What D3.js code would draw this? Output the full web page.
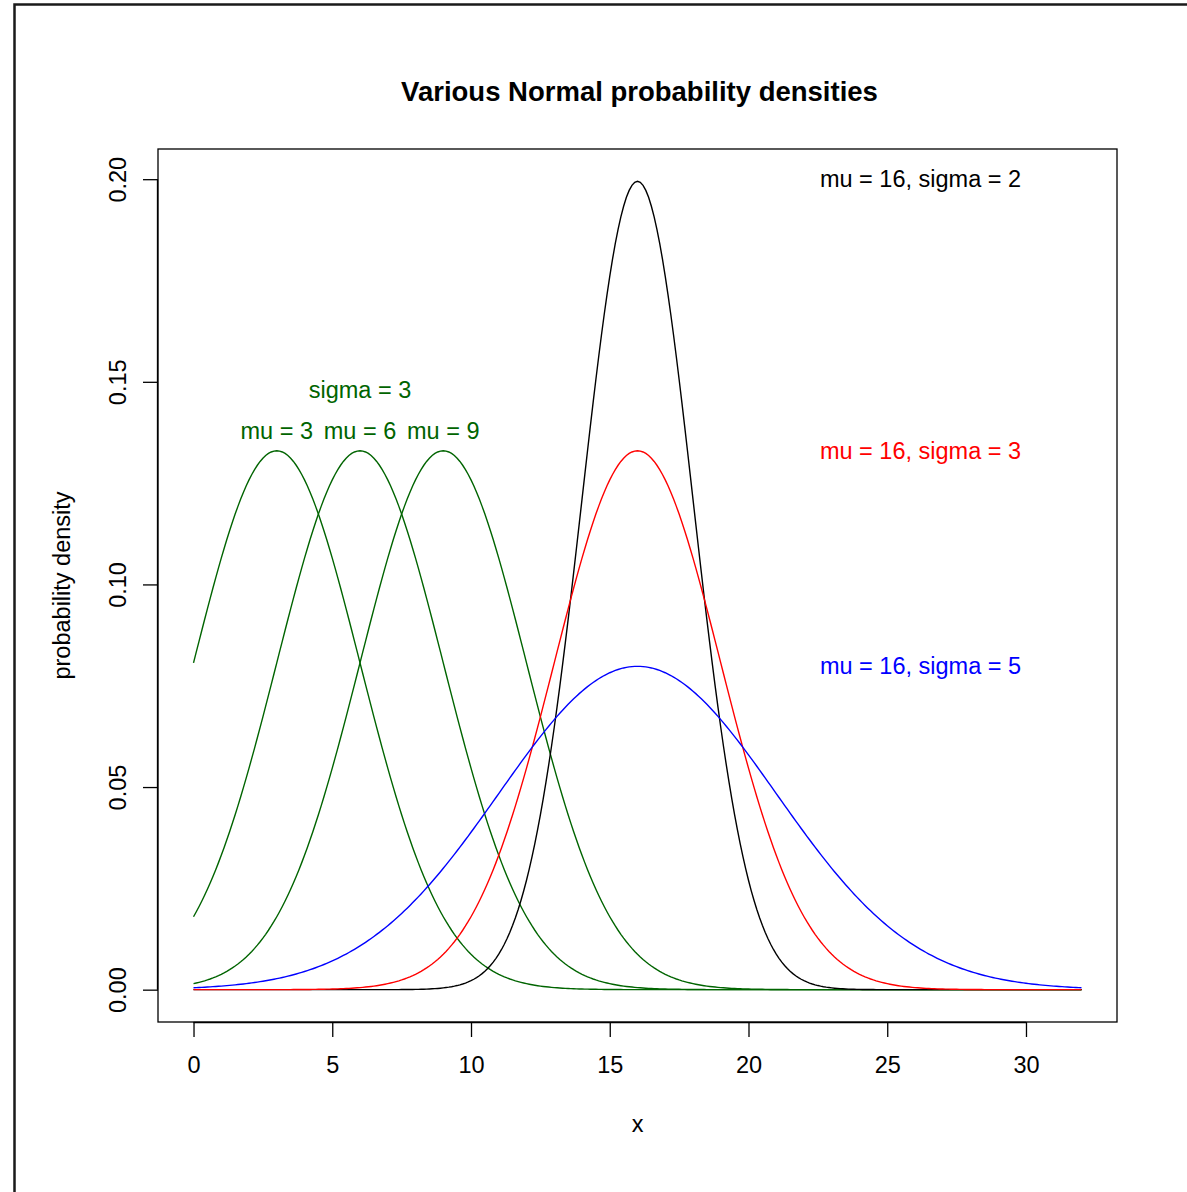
<!DOCTYPE html>
<html>
<head>
<meta charset="utf-8">
<script src="https://cdn.jsdelivr.net/npm/d3@7"></script>
<style>
  body { margin: 0; background: #fff; }
  text { font-family: "Liberation Sans", Arial, Helvetica, sans-serif; }
</style>
</head>
<body>
<div id="chart"></div>
<script>
// curve parameters
var curveMu = [3, 6, 9, 16, 16, 16];
var curveSigma = [3, 3, 3, 2, 3, 5];
var curveColor = ["#006400", "#006400", "#006400", "black", "red", "blue"];

var xTicks = [0, 5, 10, 15, 20, 25, 30];
var yTicks = [0.00, 0.05, 0.10, 0.15, 0.20];

// text annotations
var noteText = ["sigma = 3", "mu = 3", "mu = 6", "mu = 9",
                "mu = 16, sigma = 2", "mu = 16, sigma = 3", "mu = 16, sigma = 5"];
var noteX = [6, 3, 6, 9, 26.2, 26.2, 26.2];
var noteY = [0.148, 0.138, 0.138, 0.138, 0.2, 0.133, 0.08];
var noteColor = ["#006400", "#006400", "#006400", "#006400", "black", "red", "blue"];

var W = 1187, H = 1192;
var box = {left: 158, top: 149, right: 1117, bottom: 1022};
var fs = "23.5px";

function dnorm(x, mu, s) {
  return Math.exp(-0.5 * Math.pow((x - mu) / s, 2)) / (s * Math.sqrt(2 * Math.PI));
}

var xmin = 0, xmax = 32;
var ymax = d3.max(curveMu.map(function(m, i){ return dnorm(m, m, curveSigma[i]); }));
var xpad = (xmax - xmin) * 0.04, ypad = ymax * 0.04;

var x = d3.scaleLinear().domain([xmin - xpad, xmax + xpad]).range([box.left, box.right]);
var y = d3.scaleLinear().domain([0 - ypad, ymax + ypad]).range([box.bottom, box.top]);

var svg = d3.select("#chart").append("svg")
  .attr("width", W).attr("height", H);

// outer frame
svg.append("rect")
  .attr("x", 14.5).attr("y", 4.5)
  .attr("width", W + 20).attr("height", H + 20)
  .attr("fill", "none").attr("stroke", "#1a1a1a").attr("stroke-width", 2.5);

// curves
var xs = d3.range(0, 320.5).map(function(k){ return k / 10; });
var line = d3.line().x(function(d){ return x(d[0]); }).y(function(d){ return y(d[1]); });

curveMu.forEach(function(m, i) {
  var pts = xs.map(function(v){ return [v, dnorm(v, m, curveSigma[i])]; });
  svg.append("path")
    .attr("d", line(pts))
    .attr("fill", "none")
    .attr("stroke", curveColor[i])
    .attr("stroke-width", 1.4);
});

// plot box
svg.append("rect")
  .attr("x", box.left).attr("y", box.top)
  .attr("width", box.right - box.left).attr("height", box.bottom - box.top)
  .attr("fill", "none").attr("stroke", "black").attr("stroke-width", 1.3);

// x axis
var xAxis = svg.append("g")
  .attr("transform", "translate(0," + box.bottom + ")")
  .call(d3.axisBottom(x).tickValues(xTicks).tickSize(15).tickPadding(19).tickSizeOuter(0));
xAxis.select(".domain").attr("d", "M" + x(xTicks[0]) + ",0.5H" + x(xTicks[xTicks.length - 1]));

// y axis
var yAxis = svg.append("g")
  .attr("transform", "translate(" + box.left + ",0)")
  .call(d3.axisLeft(y).tickValues(yTicks).tickFormat(d3.format(".2f")).tickSize(15).tickSizeOuter(0));
yAxis.select(".domain").attr("d", "M-0.5," + y(yTicks[0]) + "V" + y(yTicks[yTicks.length - 1]));
yAxis.selectAll(".tick text")
  .attr("x", null).attr("dy", null)
  .attr("text-anchor", "middle")
  .attr("transform", "translate(-40,0) rotate(-90)")
  .attr("dy", "0.35em");

svg.selectAll(".tick line, .domain").attr("stroke", "black").attr("stroke-width", 1.3);
svg.selectAll(".tick text")
  .attr("fill", "black")
  .style("font-size", fs)
  .style("font-family", "'Liberation Sans', Arial, sans-serif");

// title and axis labels
svg.append("text")
  .attr("x", (box.left + box.right) / 2 + 2).attr("y", 101)
  .attr("text-anchor", "middle")
  .style("font-size", "27.5px").style("font-weight", "bold")
  .text("Various Normal probability densities");

svg.append("text")
  .attr("x", (box.left + box.right) / 2).attr("y", 1132)
  .attr("text-anchor", "middle")
  .style("font-size", fs)
  .text("x");

svg.append("text")
  .attr("transform", "translate(70," + ((box.top + box.bottom) / 2) + ") rotate(-90)")
  .attr("text-anchor", "middle")
  .style("font-size", fs)
  .text("probability density");

// annotations
noteText.forEach(function(t, i) {
  svg.append("text")
    .attr("x", x(noteX[i])).attr("y", y(noteY[i]))
    .attr("dy", "0.35em")
    .attr("text-anchor", "middle")
    .attr("fill", noteColor[i])
    .style("font-size", fs)
    .text(t);
});
</script>
</body>
</html>
